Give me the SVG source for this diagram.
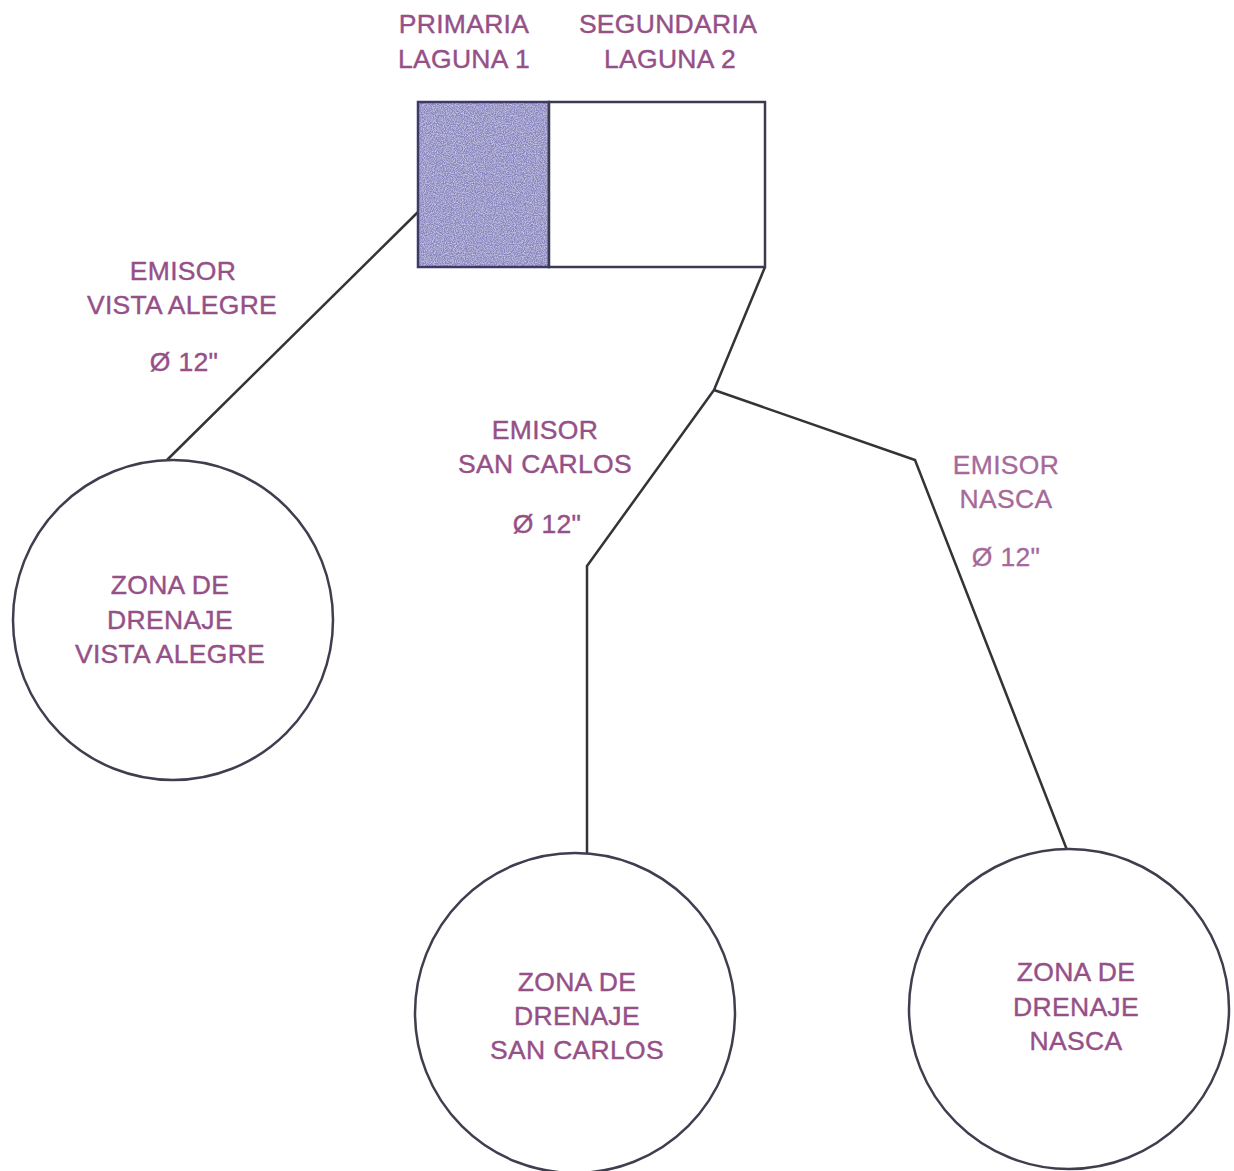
<svg xmlns="http://www.w3.org/2000/svg" width="1234" height="1171" viewBox="0 0 1234 1171">
<defs>
<filter id="grain" x="0" y="0" width="100%" height="100%">
<feTurbulence type="fractalNoise" baseFrequency="0.9" numOctaves="2" seed="3" result="n"/>
<feColorMatrix in="n" type="matrix" values="0 0 0 0 0.78  0 0 0 0 0.77  0 0 0 0 0.92  0 0 0 1.4 -0.5" result="spots"/>
<feComposite in="spots" in2="SourceGraphic" operator="atop"/>
</filter>
</defs>
<style>
.lbl{font-family:"Liberation Sans",Arial,sans-serif;font-size:26.5px;fill:#955088;stroke:#955088;stroke-width:0.4;text-anchor:middle;letter-spacing:0.3px}
.lbl2{font-family:"Liberation Sans",Arial,sans-serif;font-size:26.5px;fill:#a56a99;stroke:#a56a99;stroke-width:0.3;text-anchor:middle;letter-spacing:0.3px}
.edge{fill:none;stroke:#333338;stroke-width:2.5;stroke-linejoin:round}
.zone{fill:#ffffff;stroke:#3e3e4e;stroke-width:2.5}
</style>
<rect width="1234" height="1171" fill="#ffffff"/>
<g id="connectors">
<polyline class="edge" points="418,212 167,460"/>
<polyline class="edge" points="765,267 714,390 587,566 587,853"/>
<polyline class="edge" points="714,390 915,460 1067,850"/>
</g>
<g id="laguna1">
<rect x="418" y="102" width="131" height="165" fill="#8a86c0" filter="url(#grain)"/>
<rect x="418" y="102" width="131" height="165" fill="none" stroke="#3d3a6a" stroke-width="2.5"/>
<text class="lbl" x="464" y="33">PRIMARIA</text>
<text class="lbl" x="464" y="68">LAGUNA 1</text>
</g>
<g id="laguna2">
<rect x="549" y="102" width="216" height="165" fill="#ffffff" stroke="#3a3a50" stroke-width="2.5"/>
<text class="lbl" x="668" y="33">SEGUNDARIA</text>
<text class="lbl" x="670" y="68">LAGUNA 2</text>
</g>
<g id="emisor-vista-alegre">
<text class="lbl" x="183" y="280">EMISOR</text>
<text class="lbl" x="182" y="314">VISTA ALEGRE</text>
<text class="lbl" x="184" y="371">Ø 12"</text>
</g>
<g id="emisor-san-carlos">
<text class="lbl" x="545" y="439">EMISOR</text>
<text class="lbl" x="545" y="473">SAN CARLOS</text>
<text class="lbl" x="547" y="533">Ø 12"</text>
</g>
<g id="emisor-nasca">
<text class="lbl2" x="1006" y="474">EMISOR</text>
<text class="lbl2" x="1006" y="508">NASCA</text>
<text class="lbl2" x="1006" y="566">Ø 12"</text>
</g>
<g id="zona-vista-alegre">
<circle class="zone" cx="173" cy="620" r="160"/>
<text class="lbl" x="170" y="594">ZONA DE</text>
<text class="lbl" x="170" y="629">DRENAJE</text>
<text class="lbl" x="170" y="663">VISTA ALEGRE</text>
</g>
<g id="zona-san-carlos">
<circle class="zone" cx="575" cy="1013" r="160"/>
<text class="lbl" x="577" y="991">ZONA DE</text>
<text class="lbl" x="577" y="1025">DRENAJE</text>
<text class="lbl" x="577" y="1059">SAN CARLOS</text>
</g>
<g id="zona-nasca">
<circle class="zone" cx="1069" cy="1009" r="160"/>
<text class="lbl" x="1076" y="981">ZONA DE</text>
<text class="lbl" x="1076" y="1016">DRENAJE</text>
<text class="lbl" x="1076" y="1050">NASCA</text>
</g>
</svg>
